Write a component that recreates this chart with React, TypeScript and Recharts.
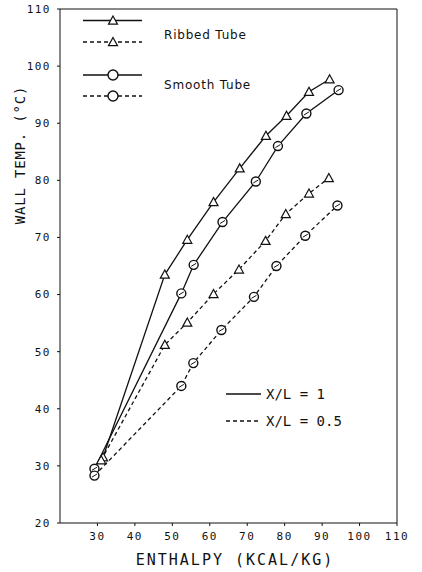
import React from "react";
import { ComposedChart, Line, XAxis, YAxis, ReferenceLine } from "recharts";

const ribbedSolidX = [31.5, 48, 54, 61, 68, 75, 80.5, 86.5, 92];
const ribbedSolidY = [31.5, 63.5, 69.6, 76.2, 82.1, 87.8, 91.3, 95.5, 97.7];
const smoothSolidX = [29.2, 52.4, 55.7, 63.4, 72.3, 78.2, 85.8, 94.4];
const smoothSolidY = [29.5, 60.2, 65.2, 72.7, 79.8, 86.0, 91.7, 95.8];
const ribbedDashX = [31, 48, 54, 61, 67.8, 74.9, 80.3, 86.5, 91.8];
const ribbedDashY = [31, 51.2, 55.1, 60.1, 64.4, 69.4, 74.1, 77.7, 80.4];
const smoothDashX = [29.2, 52.4, 55.6, 63.1, 71.8, 77.8, 85.5, 94.1];
const smoothDashY = [28.3, 44.0, 48.0, 53.8, 59.6, 65.0, 70.3, 75.6];

const xTicks = [30, 40, 50, 60, 70, 80, 90, 100, 110];
const yTicks = [20, 30, 40, 50, 60, 70, 80, 90, 100, 110];

const toPts = (xs: number[], ys: number[]) => xs.map((x, i) => ({ x, y: ys[i] }));

const Tri = (props: any) => {
  const { cx, cy } = props;
  if (cx == null || cy == null) return null;
  const s = 4.5;
  return (
    <path
      d={`M${cx},${cy - s} L${cx + s},${cy + s * 0.8} L${cx - s},${cy + s * 0.8} Z`}
      fill="#fff"
      stroke="#111"
      strokeWidth={1.2}
    />
  );
};

const Circ = (props: any) => {
  const { cx, cy } = props;
  if (cx == null || cy == null) return null;
  return (
    <g>
      <circle cx={cx} cy={cy} r={4.5} fill="#fff" stroke="#111" strokeWidth={1.4} />
      <line x1={cx - 2.5} y1={cy + 1.5} x2={cx + 2.5} y2={cy - 1.5} stroke="#111" strokeWidth={1} />
    </g>
  );
};

const mono = "'DejaVu Sans Mono', monospace";

export default function App() {
  return (
    <div style={{ position: "absolute", left: 0, top: 0, width: 422, height: 572, background: "#fff" }}>
      <ComposedChart width={422} height={572} margin={{ top: 9, right: 25, bottom: 0, left: 0 }}>
        <XAxis
          type="number"
          dataKey="x"
          domain={[20, 110]}
          ticks={xTicks}
          allowDataOverflow
          height={49}
          stroke="#111"
          tickSize={3}
          tick={{ fill: "#111", fontFamily: mono, fontSize: 11, letterSpacing: 1.5 }}
          tickMargin={6}
        />
        <YAxis
          type="number"
          dataKey="y"
          domain={[20, 110]}
          ticks={yTicks}
          allowDataOverflow
          width={60}
          stroke="#111"
          tickSize={3}
          tickMargin={6}
          tick={{ fill: "#111", fontFamily: mono, fontSize: 11, letterSpacing: 1.5 }}
        />
        <ReferenceLine y={110} stroke="#111" strokeWidth={1} />
        <ReferenceLine x={110} stroke="#111" strokeWidth={1} />
        <Line data={toPts(ribbedSolidX, ribbedSolidY)} dataKey="y" stroke="#111" strokeWidth={1.3} dot={<Tri />} isAnimationActive={false} />
        <Line data={toPts(smoothSolidX, smoothSolidY)} dataKey="y" stroke="#111" strokeWidth={1.3} dot={<Circ />} isAnimationActive={false} />
        <Line data={toPts(ribbedDashX, ribbedDashY)} dataKey="y" stroke="#111" strokeWidth={1.3} strokeDasharray="4 3" dot={<Tri />} isAnimationActive={false} />
        <Line data={toPts(smoothDashX, smoothDashY)} dataKey="y" stroke="#111" strokeWidth={1.3} strokeDasharray="4 3" dot={<Circ />} isAnimationActive={false} />
      </ComposedChart>
      <svg width={422} height={572} style={{ position: "absolute", left: 0, top: 0, pointerEvents: "none" }}>
        <text x={235} y={565} textAnchor="middle" fontFamily={mono} fontSize={15} letterSpacing={2} fill="#111">ENTHALPY (KCAL/KG)</text>
        <text x={25} y={155} textAnchor="middle" transform="rotate(-90 25 155)" fontFamily={mono} fontSize={14} letterSpacing={0.8} fill="#111">WALL TEMP. (°C)</text>
        <g stroke="#111" strokeWidth={1.3}>
          <line x1={83} y1={20.5} x2={142} y2={20.5} />
          <line x1={83} y1={42} x2={142} y2={42} strokeDasharray="4 3" />
          <line x1={83} y1={75} x2={142} y2={75} />
          <line x1={83} y1={96} x2={142} y2={96} strokeDasharray="4 3" />
        </g>
        <Tri cx={113} cy={20.5} />
        <Tri cx={113} cy={42} />
        <circle cx={113} cy={75} r={5} fill="#fff" stroke="#111" strokeWidth={1.4} />
        <circle cx={113} cy={96} r={5} fill="#fff" stroke="#111" strokeWidth={1.4} />
        <text x={164} y={39} fontFamily="'DejaVu Sans', sans-serif" fontSize={12} letterSpacing={0.8} fill="#111">Ribbed Tube</text>
        <text x={164} y={89} fontFamily="'DejaVu Sans', sans-serif" fontSize={12} letterSpacing={0.8} fill="#111">Smooth Tube</text>
        <g stroke="#111" strokeWidth={1.3}>
          <line x1={226} y1={394} x2={261} y2={394} />
          <line x1={226} y1={421} x2={261} y2={421} strokeDasharray="4 3" />
        </g>
        <text x={266} y={399} fontFamily={mono} fontSize={14} fill="#111">X/L = 1</text>
        <text x={266} y={426} fontFamily={mono} fontSize={14} fill="#111">X/L = 0.5</text>
      </svg>
    </div>
  );
}
